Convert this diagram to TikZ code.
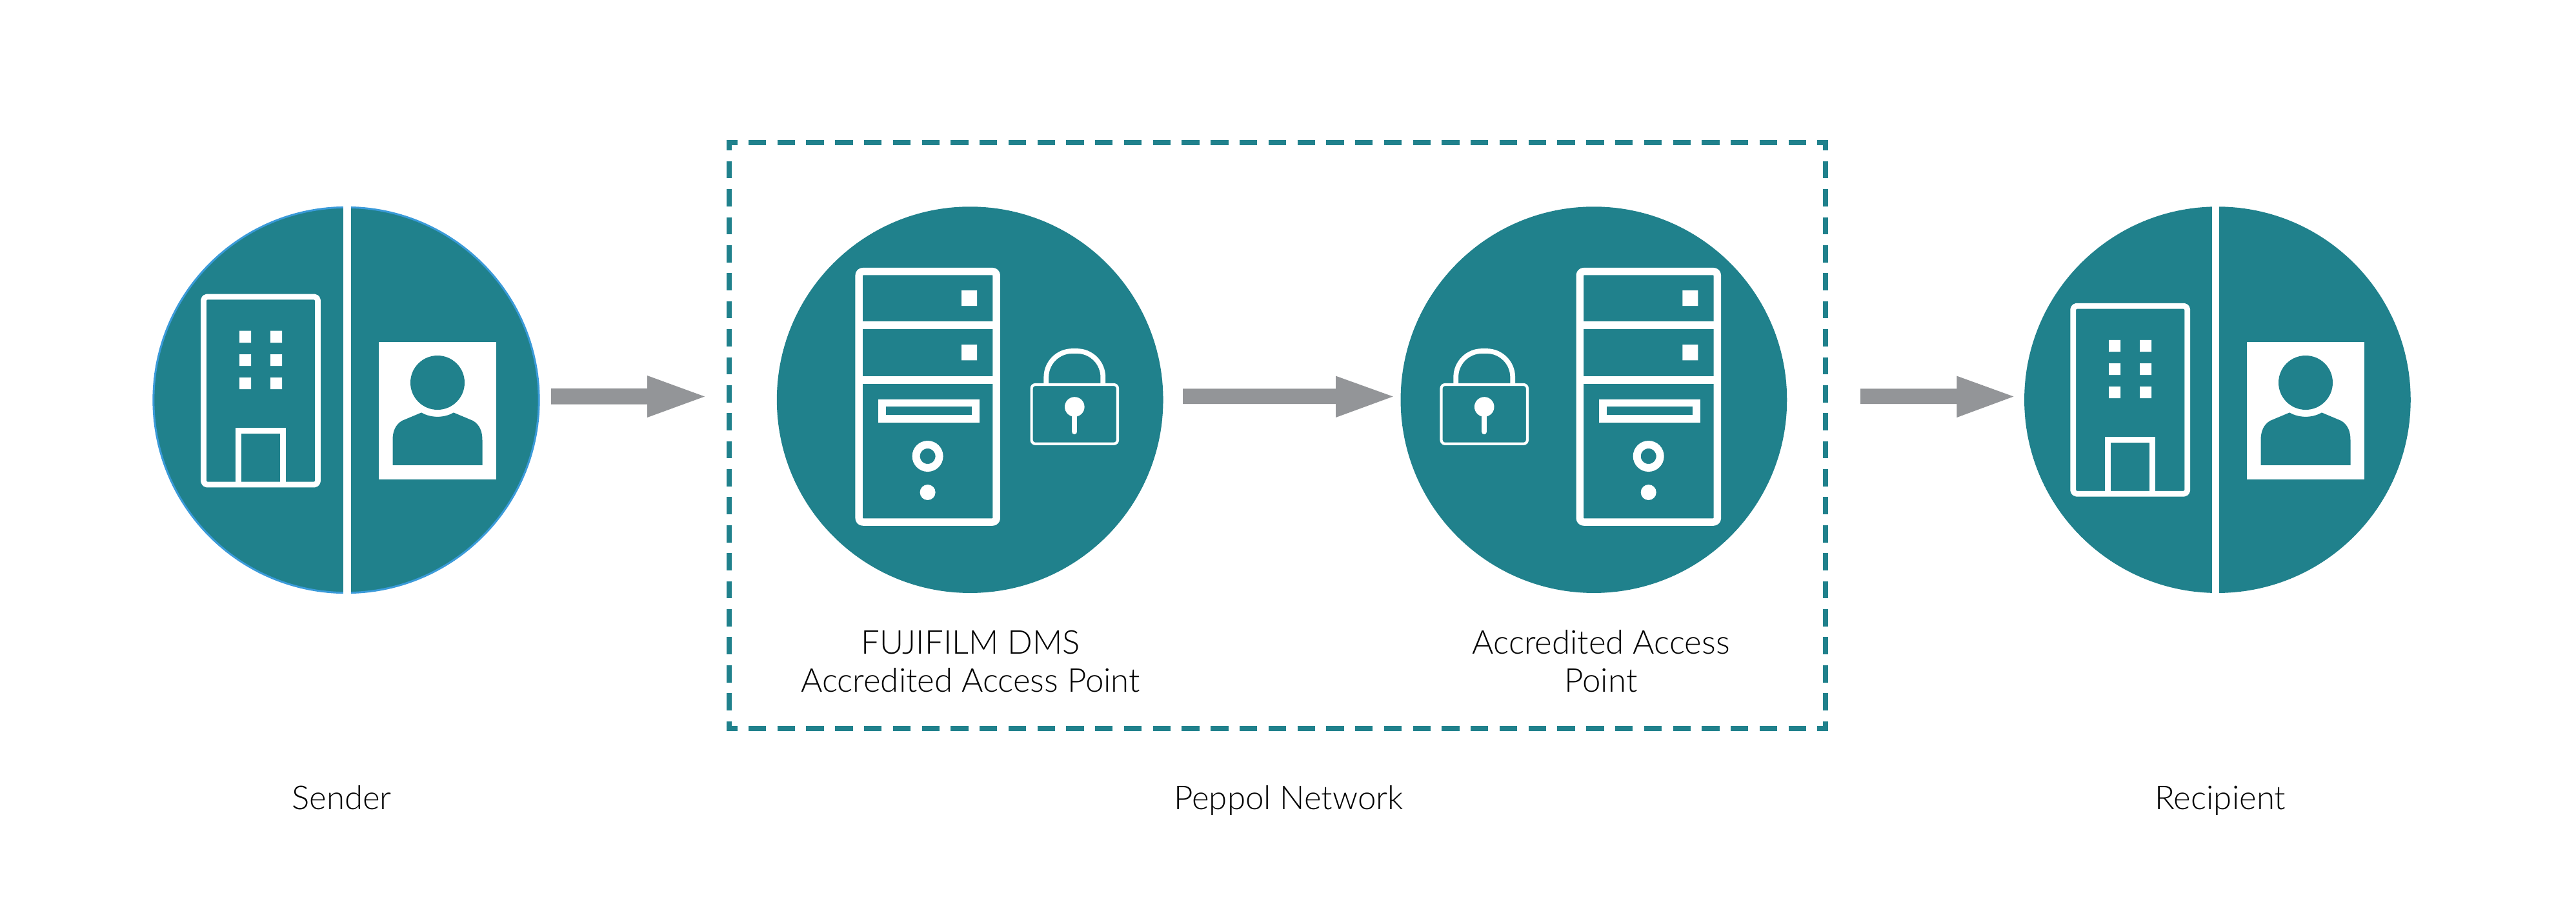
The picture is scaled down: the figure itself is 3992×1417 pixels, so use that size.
\documentclass[tikz,border=0pt]{standalone}
\usepackage{fontspec}
\setmainfont{Lato Light}
\definecolor{teal1}{HTML}{20818C}
\definecolor{gray1}{HTML}{939598}
\definecolor{edge1}{HTML}{3A9AD9}
\tikzset{
  disc/.style={circle,fill=teal1,draw=none,minimum size=#1,inner sep=0pt,outer sep=0pt},
  cap1/.style={font=\fontsize{14.5pt}{16.8pt}\selectfont,align=center,text=black,anchor=base,inner sep=0pt},
  flow/.style={fill=gray1,draw=none},
  icon/.style={draw=white,fill=none,line join=round},
  sharp/.style={draw=white,fill=none,line join=miter},
  hdash/.style={draw=teal1,line width=2.42pt,dash pattern=on 7.77pt off 4.96pt,dash phase=2.99pt},
  vdash/.style={draw=teal1,line width=2.42pt,dash pattern=on 7.6pt off 4.74pt,dash phase=2.95pt},
}
% server: x offset is the left centreline position
\newcommand{\serverico}[1]{%
  \begin{scope}[shift={(#1,0)}]
    \draw[icon,line width=3.27pt,rounded corners=1.7pt] (0,420.7) rectangle (213,809);
    \draw[sharp,line width=3.4pt] (0,504) -- (213,504) (0,588.8) -- (213,588.8);
    \fill[white] (159,450) rectangle (183,474.2) (159,534.2) rectangle (183,558.4);
    \draw[sharp,line width=3.4pt] (35.8,624.5) rectangle (180.8,648.6);
    \draw[sharp,line width=3.4pt] (106.4,707) circle (18);
    \fill[white] (106.4,763) circle (12);
  \end{scope}}
% lock: x is the centre
\newcommand{\lockico}[1]{%
  \begin{scope}[shift={(#1,0)}]
    \draw[icon,line width=1.2pt,rounded corners=1.7pt] (-66.7,596) rectangle (66.7,687.8);
    \draw[icon,line width=2.2pt,rounded corners=11.5pt] (-44,596) -- (-44,544) -- (44,544) -- (44,596);
    \fill[white] (0,630.5) circle (15.3);
    \draw[icon,line width=2.3pt,line cap=round] (0,632) -- (0,669);
  \end{scope}}
% building: x is left centreline, y top centreline
\newcommand{\buildico}[2]{%
  \begin{scope}[shift={(#1,#2)}]
    \draw[icon,line width=2.5pt,rounded corners=1.5pt] (0,0) rectangle (177,291);
    \fill[white] (55.5,52.6) rectangle (73.5,71) (103.5,52.6) rectangle (121.5,71)
                 (55.5,89) rectangle (73.5,107) (103.5,89) rectangle (121.5,107)
                 (55.5,125) rectangle (73.5,143) (103.5,125) rectangle (121.5,143);
    \draw[sharp,line width=2.5pt] (54,291) -- (54,207.5) -- (123,207.5) -- (123,291);
  \end{scope}}
% person: x is centre of the head
\newcommand{\personico}[1]{%
  \begin{scope}[shift={(#1,0)}]
    \fill[white] (-91,530) rectangle (91,742.7);
    \fill[teal1] (0,593) ellipse (42 and 42);
    \fill[teal1] (-69.5,720.8) -- (-69.5,682)
      .. controls (-69.5,668) and (-65,658) .. (-55,652)
      -- (-25,639.4) .. controls (-10,648) and (10,648) .. (25,639.4)
      -- (55,652) .. controls (65,658) and (69.5,668) .. (69.5,682)
      -- (69.5,720.8) -- cycle;
  \end{scope}}
\begin{document}
\begin{tikzpicture}[x=0.01cm,y=-0.01cm]
\useasboundingbox (0,0) rectangle (3992,1417);
\fill[white] (0,0) rectangle (3992,1417);
% dashed frame
\coordinate (tl) at (1125.7,221);
\coordinate (tr) at (2833.3,221);
\coordinate (bl) at (1125.7,1129);
\coordinate (br) at (2833.3,1129);
\coordinate (tl2) at (1130,216.7);
\coordinate (bl2) at (1130,1133.3);
\coordinate (tr2) at (2829,216.7);
\coordinate (br2) at (2829,1133.3);
\draw[hdash] (tl) -- (tr);
\draw[hdash] (bl) -- (br);
\draw[vdash] (tl2) -- (bl2);
\draw[vdash] (tr2) -- (br2);
% discs
\node[disc=597pt*0.2845,draw=edge1,line width=0.85pt] (sender) at (536.5,620) {};
\node[disc=598.4pt*0.2845] (ap1) at (1503.2,619.6) {};
\node[disc=598.4pt*0.2845] (ap2) at (2469.9,619.6) {};
\node[disc=598.4pt*0.2845] (recipient) at (3436.4,619.6) {};
% splits
\fill[white] (532.2,310) rectangle (543.6,930);
\fill[white] (3428,310) rectangle (3438.8,930);
% icons
\buildico{315.5}{460}
\personico{678}
\serverico{1331.2}
\lockico{1665.3}
\serverico{2448.3}
\lockico{2300.2}
\buildico{3212.7}{474.2}
\personico{3573}
% arrows
\fill[flow] (854,602) -- (1003,602) -- (1003,582) -- (1092,614.5) -- (1003,647) -- (1003,626.5) -- (854,626.5) -- cycle;
\fill[flow] (1833,602.4) -- (2070,602.4) -- (2070,582.6) -- (2158.7,614.5) -- (2070,647) -- (2070,626) -- (1833,626) -- cycle;
\fill[flow] (2883,602.4) -- (3032.4,602.4) -- (3032.4,582.6) -- (3120.4,614.5) -- (3032.4,647) -- (3032.4,626) -- (2883,626) -- cycle;
% labels
\node[cap1] (t1a) at (1504,1013) {FUJIFILM DMS};
\node[cap1] (t1b) at (1504,1072.4) {Accredited Access Point};
\node[cap1] (t2a) at (2481,1013) {Accredited Access};
\node[cap1] (t2b) at (2481,1072.4) {Point};
\node[cap1] (t3) at (529.5,1254) {Sender};
\node[cap1] (t4) at (1997,1254) {Peppol Network};
\node[cap1] (t5) at (3440.7,1254) {Recipient};
\end{tikzpicture}
\end{document}
